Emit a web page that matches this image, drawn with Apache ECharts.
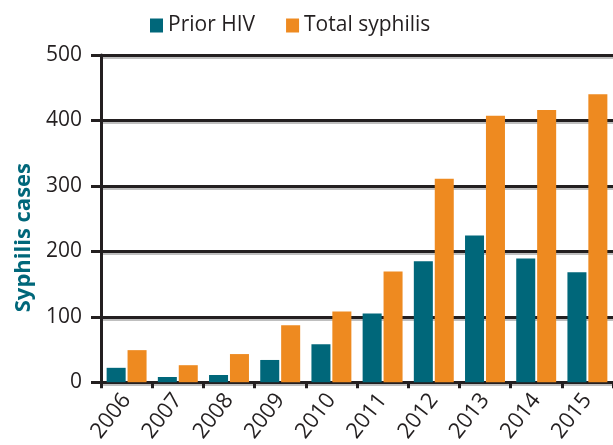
<!DOCTYPE html>
<html lang="en">
<head>
    <meta charset="UTF-8">
    <title>Syphilis cases</title>
    <style>
        html, body { margin: 0; padding: 0; background: #fff; }
        #chart { width: 613px; height: 445px; }
    </style>
</head>
<body>
    <div id="chart"></div>
</body>
<script src="https://cdn.jsdelivr.net/npm/echarts@6/dist/echarts.min.js"></script>
<script type="text/javascript">
    var years = ['2006', '2007', '2008', '2009', '2010', '2011', '2012', '2013', '2014', '2015'];
    var priorHiv = [22, 8, 11, 34, 58, 105, 185, 224, 189, 168];
    var totalSyphilis = [49, 26, 43, 87, 108, 169, 311, 407, 416, 440];

    var ink = '#231f20';
    var font = 'Open Sans';

    var myChart = echarts.init(document.getElementById('chart'));
    myChart.setOption({
        animation: false,
        textStyle: { fontFamily: font, color: ink },
        legend: {
            top: 10,
            left: 145,
            itemWidth: 13,
            itemHeight: 14,
            itemGap: 31,
            icon: 'rect',
            textStyle: { fontSize: 21, color: ink, fontFamily: font },
            data: ['Prior HIV', 'Total syphilis']
        },
        grid: {
            left: 101,
            right: -8,
            top: 55,
            bottom: 62,
            containLabel: false
        },
        xAxis: {
            type: 'category',
            data: years,
            axisLine: { lineStyle: { color: ink, width: 3 } },
            axisTick: { show: true, length: 6, lineStyle: { color: ink, width: 3 } },
            axisLabel: { rotate: 52, fontSize: 22, color: ink, margin: 14, fontFamily: font }
        },
        yAxis: {
            type: 'value',
            min: 0,
            max: 500,
            interval: 100,
            name: 'Syphilis cases',
            nameLocation: 'middle',
            nameRotate: 90,
            nameGap: 66,
            nameTextStyle: { fontSize: 22, fontWeight: 'bold', color: '#00677a', fontFamily: font, padding: [0, 38, 0, 0] },
            axisLine: { show: true, lineStyle: { color: ink, width: 3 } },
            axisTick: { show: true, length: 10, lineStyle: { color: ink, width: 3 } },
            axisLabel: { fontSize: 21, color: ink, margin: 19, fontFamily: font },
            splitLine: {
                show: true,
                lineStyle: { color: ink, width: 3, shadowColor: 'rgba(0,0,0,0.25)', shadowOffsetY: 2 }
            }
        },
        series: [{
            name: 'Prior HIV',
            type: 'bar',
            barGap: '10%',
            barCategoryGap: '22%',
            itemStyle: { color: '#00677a' },
            data: priorHiv
        }, {
            name: 'Total syphilis',
            type: 'bar',
            barGap: '10%',
            barCategoryGap: '22%',
            itemStyle: { color: '#ee8a20' },
            data: totalSyphilis
        }]
    });
</script>
</html>
